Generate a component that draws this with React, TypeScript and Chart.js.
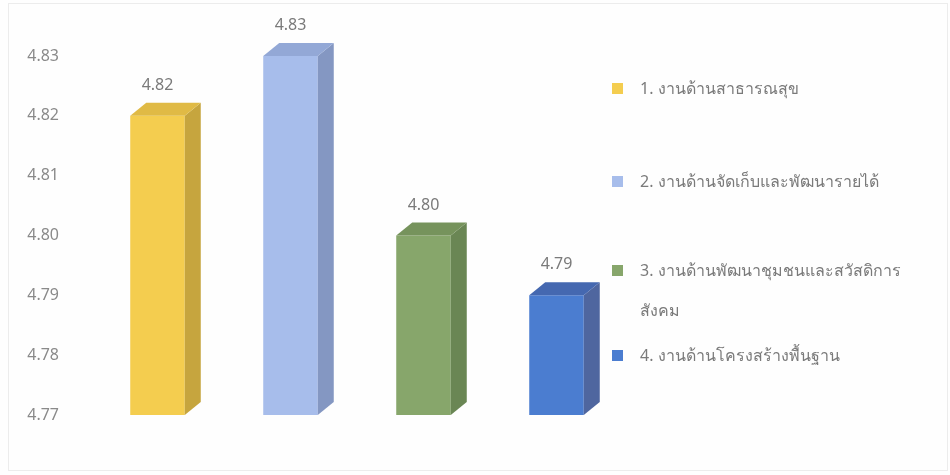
import React, { useEffect, useRef } from "react";
import { Chart, registerables } from "chart.js";

Chart.register(...registerables);

const categories = [
  "1. งานด้านสาธารณสุข",
  "2. งานด้านจัดเก็บและพัฒนารายได้",
  "3. งานด้านพัฒนาชุมชนและสวัสดิการสังคม",
  "4. งานด้านโครงสร้างพื้นฐาน",
];
const legendLines = [
  ["1. งานด้านสาธารณสุข"],
  ["2. งานด้านจัดเก็บและพัฒนารายได้"],
  ["3. งานด้านพัฒนาชุมชนและสวัสดิการ", "สังคม"],
  ["4. งานด้านโครงสร้างพื้นฐาน"],
];
const values = [4.82, 4.83, 4.8, 4.79];
const valueLabels = ["4.82", "4.83", "4.80", "4.79"];
const yMin = 4.77;
const yMax = 4.83;
const yStep = 0.01;

const frontColors = ["#F4CD4F", "#A7BDEB", "#87A66B", "#4B7DD0"];
const topColors = ["#E0BA45", "#93A8D6", "#76935C", "#4568B0"];
const sideColors = ["#C6A53E", "#8497C2", "#6A8654", "#4F669F"];

const FONT = "Tahoma, 'Noto Sans', 'DejaVu Sans', sans-serif";

const bar3d = {
  id: "bar3d",
  afterDatasetsDraw(chart: any) {
    const ctx = chart.ctx;
    const meta = chart.getDatasetMeta(0);
    const dx = 16;
    const dy = 13;
    const bottom = chart.scales.y.getPixelForValue(yMin);
    ctx.save();
    meta.data.forEach((el: any, i: number) => {
      const { x, y, width } = el.getProps(["x", "y", "width"], true);
      const base = bottom;
      const l = x - width / 2;
      const r = x + width / 2;
      // side
      ctx.fillStyle = sideColors[i];
      ctx.beginPath();
      ctx.moveTo(r, y);
      ctx.lineTo(r + dx, y - dy);
      ctx.lineTo(r + dx, base - dy);
      ctx.lineTo(r, base);
      ctx.closePath();
      ctx.fill();
      // top
      ctx.fillStyle = topColors[i];
      ctx.beginPath();
      ctx.moveTo(l, y);
      ctx.lineTo(l + dx, y - dy);
      ctx.lineTo(r + dx, y - dy);
      ctx.lineTo(r, y);
      ctx.closePath();
      ctx.fill();
      // label
      ctx.fillStyle = "#7a7a7a";
      ctx.font = `16px ${FONT}`;
      ctx.textAlign = "center";
      ctx.textBaseline = "alphabetic";
      ctx.fillText(valueLabels[i], x, y - dy - 13);
    });
    ctx.restore();
  },
};

function BarChart() {
  const ref = useRef<HTMLCanvasElement>(null);
  useEffect(() => {
    if (!ref.current) return;
    const chart = new Chart(ref.current, {
      type: "bar",
      data: {
        labels: categories,
        datasets: [
          {
            data: values,
            backgroundColor: frontColors,
            borderWidth: 0,
            barPercentage: 0.41,
            categoryPercentage: 1,
          },
        ],
      },
      plugins: [bar3d],
      options: {
        animation: false,
        responsive: false,
        layout: { padding: { left: 20, right: 327, top: 56, bottom: 60 } },
        plugins: { legend: { display: false }, tooltip: { enabled: false } },
        scales: {
          x: { display: false },
          y: {
            min: yMin,
            max: yMax,
            border: { display: false },
            grid: { display: false },
            afterFit: (scale: any) => {
              scale.width = 71;
            },
            ticks: {
              stepSize: yStep,
              padding: 24,
              color: "#8a8a8a",
              font: { size: 16, family: FONT },
              callback: (v: any) => Number(v).toFixed(2),
            },
          },
        },
      },
    });
    return () => chart.destroy();
  }, []);
  return <canvas ref={ref} width={950} height={475} style={{ position: "absolute", left: 0, top: 0 }} />;
}

const legendTops = [[88], [181], [270, 310], [355]];

export default function App() {
  return (
    <div
      style={{
        position: "fixed",
        left: 0,
        top: 0,
        width: 950,
        height: 475,
        background: "#fefefe",
        overflow: "hidden",
      }}
    >
      <div
        style={{
          position: "absolute",
          left: 8,
          top: 3,
          width: 938,
          height: 466,
          border: "1px solid #ececec",
        }}
      />
      <BarChart />
      {legendLines.map((lines, i) => (
        <React.Fragment key={i}>
          <div
            style={{
              position: "absolute",
              left: 612,
              top: legendTops[i][0] - 5,
              width: 11,
              height: 11,
              background: frontColors[i],
            }}
          />
          {lines.map((t, j) => (
            <div
              key={j}
              style={{
                position: "absolute",
                left: 640,
                top: legendTops[i][j] - 12,
                height: 24,
                lineHeight: "24px",
                fontFamily: FONT,
                fontSize: 16,
                color: "#7a7a7a",
                whiteSpace: "nowrap",
              }}
            >
              {t}
            </div>
          ))}
        </React.Fragment>
      ))}
    </div>
  );
}
